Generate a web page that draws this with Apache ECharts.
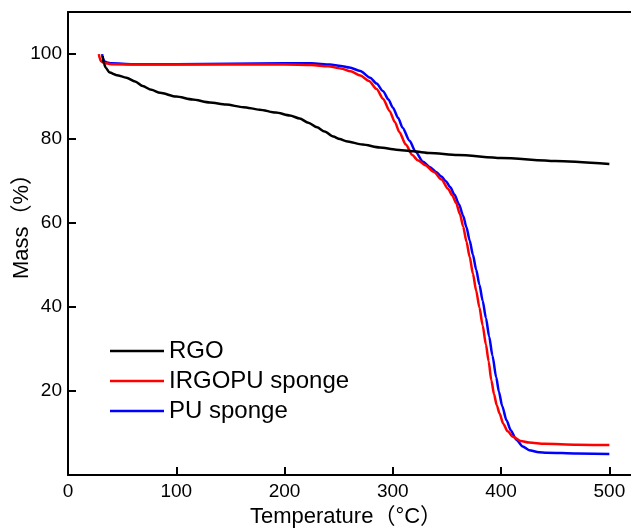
<!DOCTYPE html>
<html>
<head>
<meta charset="utf-8">
<script src="https://cdn.jsdelivr.net/npm/echarts@6/dist/echarts.min.js"></script>
<style>
html,body{margin:0;padding:0;background:#fff;}
#c{width:631px;height:528px;}
</style>
</head>
<body>
<div id="c"></div>
<script>
var seriesNames = ['RGO', 'IRGOPU sponge', 'PU sponge'];
var seriesColors = ['#000000', '#ff0000', '#0000ff'];

var rgo = [[32,99.5],[33,97.8],[35,96.7],[38.5,95.6],[45,95.0],[54,94.4],[62,93.5],[69,92.4],[77,91.5],[85,90.8],[100,89.9],[115,89.2],[131,88.5],[146,88.0],[162,87.4],[177,86.8],[192,86.1],[205,85.4],[214,84.7],[222,83.7],[230,82.6],[237,81.6],[245,80.4],[251,79.8],[257,79.3],[272,78.5],[288,77.8],[303,77.3],[319,76.9],[334,76.5],[360,76.0],[400,75.3],[450,74.6],[500,73.9]];

var irgopu = [[28.5,100],[29.3,99],[30.5,98.3],[33,97.9],[40,97.6],[70,97.5],[100,97.5],[150,97.5],[200,97.5],[225,97.4],[240,97.1],[252,96.6],[261,95.9],[270,94.9],[278,93.6],[285,91.7],[291,89.4],[297,86.5],[302,83.8],[306,81.5],[312,78.5],[318,76.0],[323,74.8],[330,73.6],[338,72.0],[345,70.2],[351,68.0],[355,66.4],[358.5,64.6],[362,62],[365,59],[368,55.5],[371,51.8],[374,47.8],[377,43.8],[380,39.8],[383,35.5],[386,31],[388.5,27],[391,22.5],[393.5,19.2],[396,16.6],[398.6,14.6],[402,12.2],[406,10.4],[411,9.1],[418,8.1],[426,7.7],[440,7.4],[470,7.2],[500,7.1]];

var pu = [[31.5,100],[32.3,99],[33.5,98.3],[36,98.0],[40,97.8],[60,97.6],[100,97.6],[150,97.7],[200,97.8],[225,97.8],[242,97.5],[252,97.2],[260,96.8],[270,96.0],[279,94.4],[285,93.0],[291,91.2],[296,89.2],[300,87.3],[305,84.8],[309,82.5],[315.5,79.4],[321,76.8],[328,74.4],[334,73.2],[340,72.0],[345,70.9],[349,69.8],[353,68.4],[357,66.6],[361,64.4],[365,61.6],[368,58.9],[371,55.7],[374,52.3],[377,48.8],[380,45.2],[383,41.4],[386,37.3],[389,32.9],[392,28.4],[395.5,23.2],[398,19.8],[401,16.4],[405,13],[409,10.6],[414,8.4],[420,6.8],[426,5.9],[435,5.4],[442,5.3],[470,5.1],[500,5.0]];

var xTicks = [0, 100, 200, 300, 400, 500];
var yTicks = [20, 40, 60, 80, 100];

var chart = echarts.init(document.getElementById('c'), null, {renderer: 'canvas'});
var font = '"Liberation Sans", Arial, "Noto Sans CJK SC", sans-serif';
var datasets = [rgo, irgopu, pu];

chart.setOption({
  animation: false,
  backgroundColor: '#ffffff',
  grid: {left: 68, top: 12, right: 0, bottom: 53, containLabel: false},
  legend: {
    data: seriesNames,
    orient: 'vertical',
    left: 110,
    top: 339,
    padding: 0,
    itemWidth: 54,
    itemHeight: 14,
    itemGap: 6,
    textStyle: {fontFamily: font, fontSize: 24, color: '#000', lineHeight: 24},
    icon: 'path://M0,6 L54,6 L54,8.6 L0,8.6 Z'
  },
  xAxis: [{
    type: 'value', min: 0, max: 520, interval: 100,
    position: 'bottom',
    axisLine: {show: true, onZero: false, lineStyle: {color: '#000', width: 2}},
    axisTick: {show: true, inside: true, length: 8, lineStyle: {color: '#000', width: 2},
      customValues: xTicks},
    axisLabel: {show: true, color: '#000', fontFamily: font, fontSize: 19, margin: 7,
      customValues: xTicks,
      formatter: function(v){ return xTicks.indexOf(v) >= 0 ? String(v) : ''; }},
    splitLine: {show: false}
  }, {
    type: 'value', min: 0, max: 520, position: 'top',
    axisLine: {show: true, onZero: false, lineStyle: {color: '#000', width: 2}},
    axisTick: {show: false}, axisLabel: {show: false}, splitLine: {show: false}
  }],
  yAxis: {
    type: 'value', min: 0, max: 110, interval: 20,
    axisLine: {show: true, onZero: false, lineStyle: {color: '#000', width: 2}},
    axisTick: {show: true, inside: true, length: 8, lineStyle: {color: '#000', width: 2},
      customValues: yTicks},
    axisLabel: {show: true, color: '#000', fontFamily: font, fontSize: 19, margin: 6,
      customValues: yTicks,
      formatter: function(v){ return yTicks.indexOf(v) >= 0 ? String(v) : ''; }},
    splitLine: {show: false}
  },
  graphic: [
    {type: 'text', x: 346, y: 517, style: {text: 'Temperature（°C）', font: '22px ' + font, fill: '#000', align: 'center', verticalAlign: 'middle'}},
    {type: 'text', x: 22, y: 221, rotation: Math.PI / 2, style: {text: 'Mass（%）', font: '22px ' + font, fill: '#000', align: 'center', verticalAlign: 'middle'}}
  ],
  series: datasets.map(function(d, i){
    return {
      name: seriesNames[i], type: 'line', data: d, smooth: 0.25, smoothMonotone: 'x',
      symbol: 'none', showSymbol: false,
      itemStyle: {color: seriesColors[i]},
      lineStyle: {color: seriesColors[i], width: 2.5},
      z: 3 - i
    };
  })
});
</script>
</body>
</html>
